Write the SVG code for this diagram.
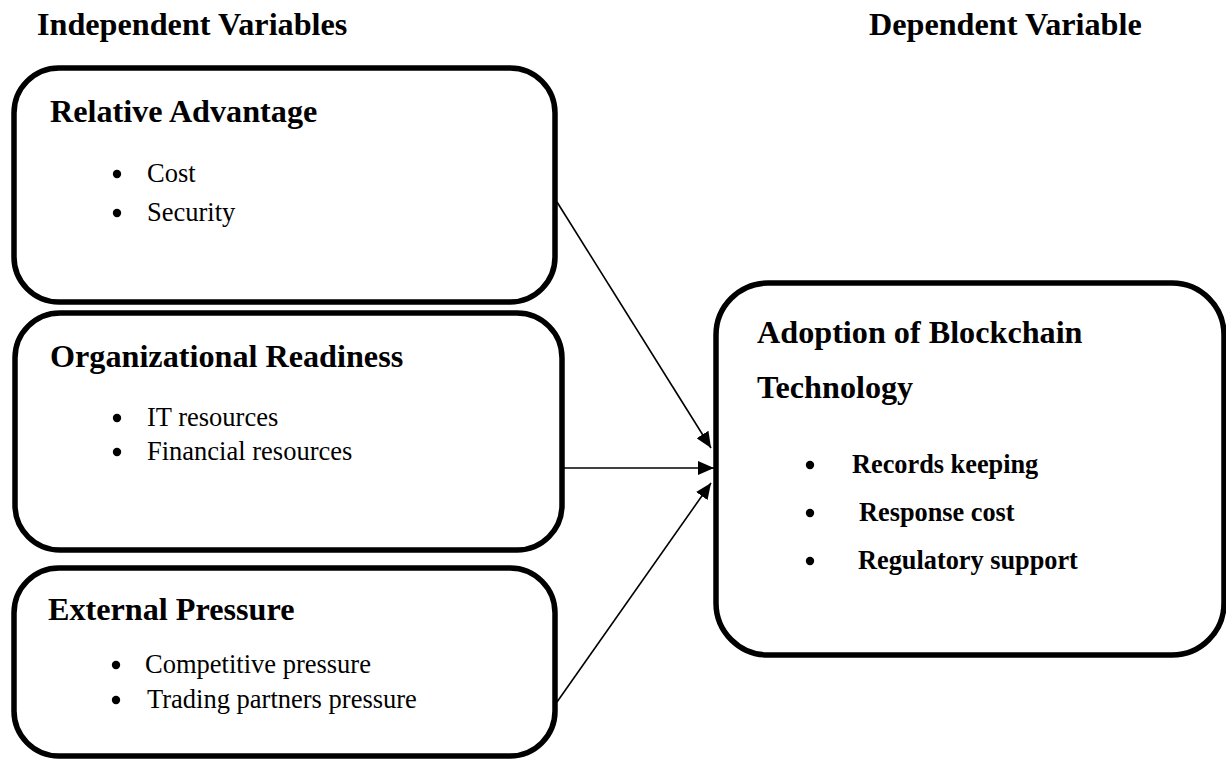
<svg xmlns="http://www.w3.org/2000/svg" width="1226" height="759" viewBox="0 0 1226 759">
<style>
.box{fill:#fff;stroke:#000;stroke-width:5.5}
.h{font-family:"Liberation Serif","Times New Roman",serif;font-weight:bold;font-size:32.2px;fill:#000}
.t{font-family:"Liberation Serif","Times New Roman",serif;font-size:26.5px;fill:#000}
.tb{font-family:"Liberation Serif","Times New Roman",serif;font-weight:bold;font-size:26.3px;fill:#000}
.conn{stroke:#000;stroke-width:1.6;fill:none;marker-end:url(#ah)}
</style>
<defs>
<marker id="ah" markerUnits="userSpaceOnUse" markerWidth="18" markerHeight="14" refX="16" refY="7" orient="auto">
<path d="M0,0 L16,7 L0,14 Z" fill="#000"/>
</marker>
</defs>
<rect width="1226" height="759" fill="#fff"/>
<g id="headers">
<text class="h" x="37" y="35">Independent Variables</text>
<text class="h" x="869" y="35">Dependent Variable</text>
</g>
<g id="connectors">
<line class="conn" x1="557" y1="202" x2="711" y2="448"/>
<line class="conn" x1="564" y1="468" x2="714" y2="468"/>
<line class="conn" x1="557" y1="702" x2="711" y2="483"/>
</g>
<g id="relative-advantage">
<rect class="box" x="14" y="68" width="541" height="234" rx="45" ry="45"/>
<text class="h" x="50" y="122">Relative Advantage</text>
<circle cx="117" cy="174" r="4.2"/>
<text class="t" x="147" y="182">Cost</text>
<circle cx="117" cy="213" r="4.2"/>
<text class="t" x="147" y="221">Security</text>
</g>
<g id="organizational-readiness">
<rect class="box" x="15" y="313" width="547" height="237" rx="45" ry="45"/>
<text class="h" x="50" y="367">Organizational Readiness</text>
<circle cx="117" cy="418" r="4.2"/>
<text class="t" x="147" y="426">IT resources</text>
<circle cx="117" cy="452" r="4.2"/>
<text class="t" x="147" y="460">Financial resources</text>
</g>
<g id="external-pressure">
<rect class="box" x="14" y="568" width="541" height="188" rx="45" ry="45"/>
<text class="h" x="48" y="620">External Pressure</text>
<circle cx="116" cy="665" r="4.2"/>
<text class="t" x="145" y="673">Competitive pressure</text>
<circle cx="116" cy="700" r="4.2"/>
<text class="t" x="147" y="708">Trading partners pressure</text>
</g>
<g id="adoption">
<rect class="box" x="716" y="283" width="508" height="372" rx="52" ry="52"/>
<text class="h" x="757" y="343">Adoption of Blockchain</text>
<text class="h" x="757" y="398">Technology</text>
<circle cx="810" cy="465" r="4.2"/>
<text class="tb" x="852" y="473">Records keeping</text>
<circle cx="810" cy="513" r="4.2"/>
<text class="tb" x="859" y="521">Response cost</text>
<circle cx="810" cy="561" r="4.2"/>
<text class="tb" x="858" y="569">Regulatory support</text>
</g>
</svg>
